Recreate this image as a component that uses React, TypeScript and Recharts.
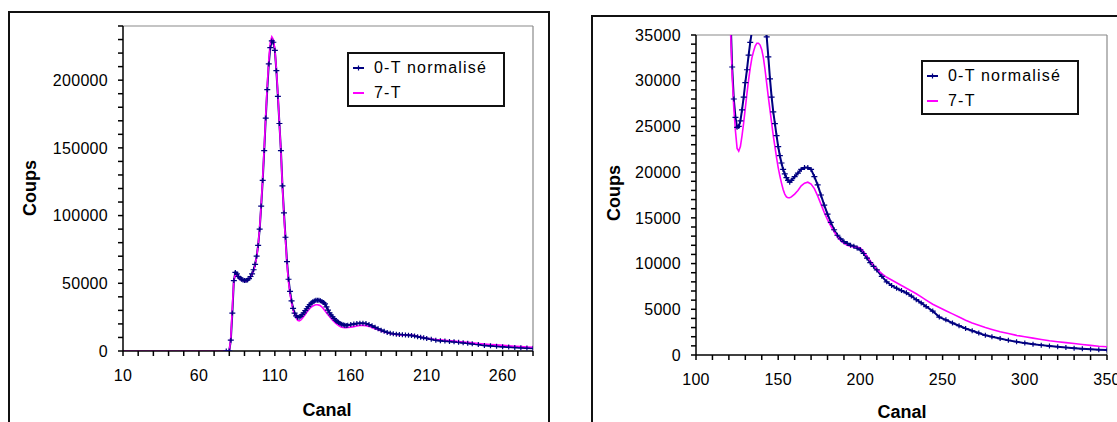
import { LineChart, Line, XAxis, YAxis, ReferenceLine } from "recharts";

// channel numbers (x) shared by both panels
const canal = [
  10, 20, 30, 40, 50, 60, 70, 78, 80, 81, 82, 83, 84, 85, 86, 87, 88, 89, 90,
  91, 92, 93, 94, 95, 96, 97, 98, 99, 100, 101, 102, 103, 104, 105, 106, 107, 108, 109, 110,
  111, 112, 113, 114, 115, 116, 117, 118, 119, 120, 121, 122, 123, 124, 125, 126, 127, 128, 129, 130,
  131, 132, 133, 134, 135, 136, 137, 138, 139, 140, 141, 142, 143, 144, 145, 146, 147, 148, 149, 150,
  151, 152, 153, 154, 155, 156, 157, 158, 160, 162, 164, 166, 168, 170, 172, 174, 176, 178, 180,
  182, 184, 186, 188, 190, 192, 194, 196, 198, 200, 202, 204, 206, 208, 210, 213, 216, 219, 222,
  225, 228, 231, 234, 237, 240, 244, 248, 252, 256, 260, 264, 268, 272, 276, 280, 285, 290, 295,
  300, 305, 310, 315, 320, 325, 330, 335, 340, 345, 350,
];

// "0-T normalisé" counts
const coups0T = [
  null, null, null, null, null, null, null, 0, 0, 8000, 28000, 52000, 58000, 57000, 55000, 54000, 53000, 52500, 52000,
  52000, 52500, 53500, 55000, 57000, 60000, 64000, 70000, 78000, 90000, 107000, 126000, 148000, 172000, 193000, 212000, 224000, 229000, 228000, 222000,
  207000, 188000, 168000, 148000, 122000, 102000, 84000, 66000, 53000, 44000, 37000, 31500, 28000, 26000, 24900, 25000, 25600, 26800, 28200, 29800,
  31200, 32800, 34200, 35400, 36300, 37000, 37400, 37500, 37400, 37100, 36600, 35800, 34800, 32600, 30200, 28200, 26600, 25300, 24000, 22800,
  21800, 21000, 20300, 19800, 19400, 19100, 18900, 19100, 19500, 19900, 20300, 20500, 20500, 20300, 19500, 18600, 17500, 16400, 15400,
  14500, 13700, 13100, 12700, 12400, 12200, 12000, 11900, 11700, 11500, 11100, 10600, 10100, 9700, 9300, 8600, 8000, 7600, 7300,
  7050, 6800, 6450, 6050, 5700, 5300, 4800, 4150, 3850, 3500, 3200, 2900, 2650, 2400, 2150, 2000, 1800, 1600, 1450,
  1300, 1180, 1080, 980, 900, 820, 750, 680, 620, 580, 550,
];

// "7-T" counts
const coups7T = [
  0, 0, 0, 0, 0, 0, 0, 0, 0, 10000, 32000, 53000, 56000, 55500, 54000, 53000, 52500, 52000, 51500,
  51500, 52000, 53000, 54500, 56500, 59500, 63500, 69500, 78000, 91000, 108000, 128000, 150000, 174000, 196000, 215000, 228000, 232000, 230000, 223000,
  208000, 189000, 168000, 147000, 121000, 100000, 82000, 64000, 51000, 42000, 35500, 30500, 27000, 24500, 22600, 22300, 22800, 24000, 25400, 27000,
  28600, 30100, 31400, 32500, 33200, 33800, 34100, 34100, 33900, 33400, 32500, 31200, 29700, 28200, 26800, 25400, 24000, 22800, 21600, 20500,
  19600, 18800, 18100, 17600, 17300, 17200, 17200, 17300, 17600, 18000, 18500, 18800, 18900, 18700, 18200, 17400, 16500, 15600, 14800,
  14100, 13500, 12900, 12500, 12200, 12000, 11900, 11800, 11800, 11700, 11300, 10800, 10300, 9800, 9400, 8900, 8500, 8200, 7900,
  7600, 7300, 7000, 6700, 6350, 6000, 5550, 5200, 4850, 4500, 4150, 3800, 3500, 3250, 3000, 2800, 2550, 2350, 2150,
  2000, 1850, 1700, 1550, 1450, 1350, 1250, 1150, 1050, 950, 900,
];

const leftXLabels = [10, 60, 110, 160, 210, 260];
const leftYLabels = [0, 50000, 100000, 150000, 200000];
const rightXLabels = [100, 150, 200, 250, 300, 350];
const rightYLabels = [0, 5000, 10000, 15000, 20000, 25000, 30000, 35000];

const data = canal.map((c, i) => ({ canal: c, t0: coups0T[i], t7: coups7T[i] }));

const FONT = '"Liberation Sans", Arial, sans-serif';
const NAVY = "#000080";
const MAGENTA = "#FF00FF";

function steps(from: number, to: number, step: number) {
  const out: number[] = [];
  for (let v = from; v <= to; v += step) out.push(v);
  return out;
}

function XTick(props: any) {
  const { x, y, payload, labels } = props;
  if (!labels.includes(payload.value)) return <g />;
  return (
    <text x={x} y={y} dy="0.71em" textAnchor="middle" fontSize={16} letterSpacing={0.3} fill="#000" fontFamily={FONT}>
      {payload.value}
    </text>
  );
}

function YTick(props: any) {
  const { x, y, payload, labels } = props;
  if (!labels.includes(payload.value)) return <g />;
  return (
    <text x={x} y={y} dy="0.355em" textAnchor="end" fontSize={16} letterSpacing={0.3} fill="#000" fontFamily={FONT}>
      {payload.value}
    </text>
  );
}

function PlusDot(props: any) {
  const { cx, cy, index } = props;
  if (cx == null || cy == null) return <g key={index} />;
  return (
    <path
      key={index}
      d={`M${cx - 3},${cy}H${cx + 3}M${cx},${cy - 2.5}V${cy + 2.5}`}
      stroke={NAVY}
      strokeWidth={1.2}
      fill="none"
    />
  );
}

function LegendBox({ left, top }: { left: number; top: number }) {
  const row = { display: "flex", alignItems: "center", height: 25 };
  return (
    <div
      style={{
        position: "absolute",
        left,
        top,
        width: 154,
        height: 50,
        border: "2px solid #111",
        background: "#fff",
        fontFamily: FONT,
        fontSize: 16,
        letterSpacing: 1.2,
        color: "#000",
        paddingTop: 1,
        boxSizing: "content-box",
      }}
    >
      <div style={row}>
        <svg width={24} height={10} style={{ marginLeft: 1 }}>
          <line x1={3} y1={5} x2={14} y2={5} stroke={NAVY} strokeWidth={2} />
          <path d="M6,5H11M8.5,2.5V7.5" stroke={NAVY} strokeWidth={1.2} />
        </svg>
        <span>0-T normalisé</span>
      </div>
      <div style={row}>
        <svg width={24} height={10} style={{ marginLeft: 1 }}>
          <line x1={3} y1={5} x2={14} y2={5} stroke={MAGENTA} strokeWidth={2} />
        </svg>
        <span>7-T</span>
      </div>
    </div>
  );
}

type PanelProps = {
  left: number;
  width: number;
  margin: { top: number; right: number };
  yAxisWidth: number;
  xAxisHeight: number;
  xDomain: [number, number];
  yDomain: [number, number];
  xTicks: number[];
  yTicks: number[];
  xLabels: number[];
  yLabels: number[];
};

function Panel(p: PanelProps) {
  return (
    <div style={{ position: "absolute", left: p.left, top: 0 }}>
      <LineChart
        width={p.width}
        height={422}
        data={data}
        margin={{ top: p.margin.top, right: p.margin.right, left: 0, bottom: 0 }}
      >
        <XAxis
          dataKey="canal"
          type="number"
          domain={p.xDomain}
          allowDataOverflow
          ticks={p.xTicks}
          interval={0}
          height={p.xAxisHeight}
          tickSize={5}
          tickMargin={14}
          stroke="#000"
          strokeWidth={1.5}
          tick={<XTick labels={p.xLabels} />}
        />
        <YAxis
          type="number"
          domain={p.yDomain}
          allowDataOverflow
          ticks={p.yTicks}
          interval={0}
          width={p.yAxisWidth}
          tickSize={5}
          tickMargin={10}
          stroke="#000"
          strokeWidth={1.5}
          tick={<YTick labels={p.yLabels} />}
        />
        <ReferenceLine y={p.yDomain[1]} stroke="#8a8a8a" strokeWidth={1.2} />
        <ReferenceLine x={p.xDomain[1]} stroke="#8a8a8a" strokeWidth={1.2} />
        <Line
          dataKey="t0"
          name="0-T normalisé"
          type="linear"
          stroke={NAVY}
          strokeWidth={2}
          dot={PlusDot}
          activeDot={false}
          connectNulls={false}
          isAnimationActive={false}
        />
        <Line
          dataKey="t7"
          name="7-T"
          type="linear"
          stroke={MAGENTA}
          strokeWidth={1.6}
          dot={false}
          activeDot={false}
          isAnimationActive={false}
        />
      </LineChart>
    </div>
  );
}

const titleStyle = {
  position: "absolute" as const,
  fontFamily: FONT,
  fontWeight: 700,
  fontSize: 18,
  color: "#000",
  whiteSpace: "nowrap" as const,
};

export default function App() {
  return (
    <div
      style={{
        position: "absolute",
        left: 0,
        top: 0,
        width: 1117,
        height: 422,
        overflow: "hidden",
        background: "#fff",
      }}
    >
      {/* panel frames */}
      <div style={{ position: "absolute", left: 8, top: 11, width: 538, height: 440, border: "2px solid #111" }} />
      <div style={{ position: "absolute", left: 591, top: 15, width: 560, height: 440, border: "2px solid #111" }} />

      <Panel
        left={0}
        width={560}
        margin={{ top: 26, right: 27 }}
        yAxisWidth={123}
        xAxisHeight={71}
        xDomain={[10, 280]}
        yDomain={[0, 240000]}
        xTicks={steps(10, 280, 10)}
        yTicks={steps(0, 240000, 10000)}
        xLabels={leftXLabels}
        yLabels={leftYLabels}
      />
      <Panel
        left={560}
        width={557}
        margin={{ top: 35, right: 10 }}
        yAxisWidth={136}
        xAxisHeight={67}
        xDomain={[100, 350]}
        yDomain={[0, 35000]}
        xTicks={steps(100, 350, 10)}
        yTicks={steps(0, 35000, 1000)}
        xLabels={rightXLabels}
        yLabels={rightYLabels}
      />

      <LegendBox left={347} top={52} />
      <LegendBox left={921} top={60} />

      {/* axis titles */}
      <div style={{ ...titleStyle, left: 327, top: 410, transform: "translate(-50%, -50%)" }}>Canal</div>
      <div style={{ ...titleStyle, left: 30, top: 188, transform: "translate(-50%, -50%) rotate(-90deg)" }}>Coups</div>
      <div style={{ ...titleStyle, left: 902, top: 412, transform: "translate(-50%, -50%)" }}>Canal</div>
      <div style={{ ...titleStyle, left: 614, top: 193, transform: "translate(-50%, -50%) rotate(-90deg)" }}>Coups</div>
    </div>
  );
}
